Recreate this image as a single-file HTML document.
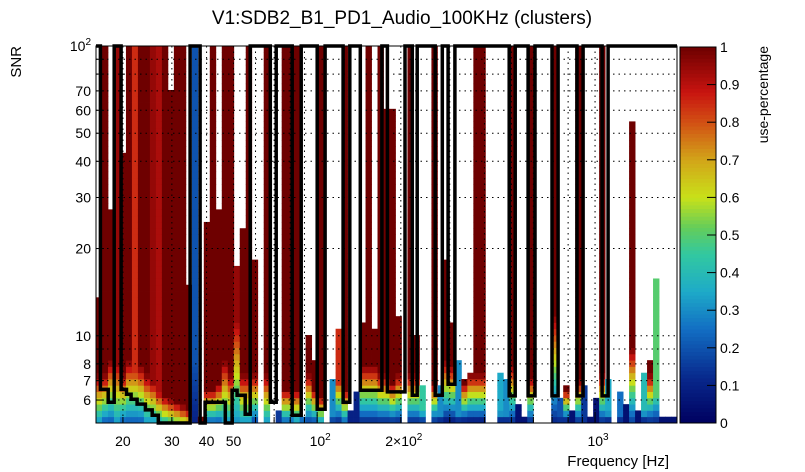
<!DOCTYPE html>
<html><head><meta charset="utf-8"><style>
body{margin:0;background:#fff;}
svg{display:block;font-family:"Liberation Sans",Arial,sans-serif;}
</style></head><body>
<svg id="chart" width="805" height="472" viewBox="0 0 805 472" xmlns="http://www.w3.org/2000/svg">
<rect width="805" height="472" fill="#fff"/>
<text x="402" y="24" font-size="19" text-anchor="middle">V1:SDB2_B1_PD1_Audio_100KHz (clusters)</text>
<g id="cells"></g>
<g id="grid"></g>
<path id="contour" fill="none" stroke="#000" stroke-width="3.5" stroke-linejoin="miter"/>
<rect x="96" y="46" width="581" height="377" fill="none" stroke="#000" stroke-width="1"/>
<g id="axes"></g>
<g id="cbar"></g>
<text x="0" y="0" font-size="15" text-anchor="end" transform="translate(21,46) rotate(-90)">SNR</text>
<text x="669" y="466" font-size="15" text-anchor="end">Frequency [Hz]</text>
<text x="0" y="0" font-size="14" text-anchor="end" transform="translate(768,46) rotate(-90)">use-percentage</text>
</svg>
<script>
// ---- data ----
const nCols = 97, fMin = 16.0, fMax = 1972;
const nRows = 60, sMin = 5, sMax = 100;
const tops = [13.8,100,27.5,100,43,100,100,100,100,100,100,100,70,100,100,15,100,5.3,25,100,27,100,100,17,23,100,18.5,0,100,0,
5.5,100,100,100,5.2,10.2,8.4,100,0,7.2,10.6,100,5.6,6.5,11.2,100,10.6,100,60,60,11.8,0,100,10.2,6.8,0,100,6.6,18.5,11.2,
8.4,7,7.6,100,100,0,0,7.5,7,100,5.8,5.3,100,0,0,0,100,6,6.8,5.4,100,6.6,5.3,6,100,7.2,0,6.5,5.8,55,
5.5,7.3,8.4,16,5.3,5.3,5.3];
const mids = [6.5,6.5,7,7,6.5,7,7,6.8,6.5,6.3,6,5.8,5.7,5.6,5.5,5.4,100,5.1,6,6,6.2,7,6.5,9,6.5,6.5,6.5,6,6.5,6,
6,6,6,6,6,6.5,6,5.8,6,6,6.5,6,6,6,6.8,6.8,6.8,6.5,6.5,6.2,6.5,6,6.5,6.5,6,6,6.2,6,7,6.8,
6,6.2,6.5,6.5,6.5,6,6,6,6,6.8,6,6,6.4,6,6,6,9,6,6,6,6.3,6,6,6,6.5,6,6,6,6,7.5,
6,6,6.5,7,6,6,6];
const bases = [.3,.2,.2,.3,.2,.2,.2,.2,.3,.3,.35,.4,.45,.5,.55,.6,.1,.9,.2,.2,.2,.3,.3,.3,.3,.3,.15,0,.3,0,
.1,.2,.2,.3,.25,.15,.15,.3,0,.1,.1,.2,.05,.05,.1,.1,.1,.1,.1,.1,.1,0,.1,.1,.1,0,.1,.05,.05,.05,
.05,.05,.05,.05,.05,0,0,.05,.05,.1,.05,.05,.1,0,0,0,.1,.05,.05,.05,.1,.05,.05,.05,.1,.05,0,.05,.05,.15,
.05,.05,.1,.1,.05,.05,.05];
const caps = [1,1,1,.95,1,1,.85,1,1,.95,.92,1,1,1,1,1,.2,1,1,1,1,1,1,.95,1,1,1,1,1,1,
.15,1,1,1,.25,1,1,1,1,.3,.85,1,.1,.1,1,1,1,1,1,1,1,1,1,1,.45,1,1,.3,1,1,
.3,1,1,1,1,1,1,.35,.3,1,.05,.05,1,1,1,1,1,.2,1,.05,1,.15,.05,.05,1,.35,1,.25,.05,1,
.05,.4,1,.5,.05,.05,.05];
const toothF = [[16.6,17.7,18.6],[19.7,20.6,21.4,22.5,24.1,25.5,26.8,34.9],[37.9,39.5,46.7,49.4,51.5,55.1,57.4],
[67.8,71.2],[81.3,87.6],[100,106.8],[124,131],[143,171],[179,207],[220,229],[266,282],[296,313],
[491,516],[574,608],[700,736],[861,906],[1060,1114]];
const toothS = [[6.53,5.9],[6.53,6.28,6.04,5.81,5.55,5.32,5.0],[5.0,5.9,5.0,6.49,6.23,5.36],
[5.9],[5.32],[5.58],[5.9],[6.49],[6.4],[6.23],[6.23],[6.8],[6.2],[6.2],[6.2],[6.2],[6.2]];
const yTicks = [6,7,8,9,10,20,30,40,50,60,70,80,90];
const yLabels = [[6,"6"],[7,"7"],[8,"8"],[10,"10"],[20,"20"],[30,"30"],[40,"40"],[50,"50"],[60,"60"],[70,"70"]];
const xTicks = [20,30,40,50,60,70,80,90,100,200,300,400,500,600,700,800,900,1000];
const xLabels = [[20,"20"],[30,"30"],[40,"40"],[50,"50"]];
const cbTicks = [0,0.1,0.2,0.3,0.4,0.5,0.6,0.7,0.8,0.9,1];

// ---- axes ----
const X0=96,X1=677,Y0=423,Y1=46;
const xs = f => X0 + (Math.log10(f)-Math.log10(fMin))/(Math.log10(fMax)-Math.log10(fMin))*(X1-X0);
const ys = s => Y0 - (Math.log10(s)-Math.log10(sMin))/(Math.log10(sMax)-Math.log10(sMin))*(Y0-Y1);
const NS="http://www.w3.org/2000/svg";
function mk(tag, attrs, parent){const e=document.createElementNS(NS,tag);for(const k in attrs)e.setAttribute(k,attrs[k]);parent.appendChild(e);return e;}

const stops=[[0,[0,0,95]],[0.12,[8,40,140]],[0.25,[18,110,195]],[0.35,[30,170,200]],[0.45,[50,200,160]],[0.52,[100,205,90]],[0.6,[200,225,25]],[0.7,[210,165,25]],[0.8,[210,80,20]],[0.88,[200,20,16]],[1,[110,0,0]]];
function cmap(v){v=Math.max(0,Math.min(1,v));for(let i=1;i<stops.length;i++){if(v<=stops[i][0]){const a=stops[i-1],b=stops[i];const t=(v-a[0])/(b[0]-a[0]);const c=a[1].map((x,j)=>Math.round(x+(b[1][j]-x)*t));return `rgb(${c})`;}}return 'rgb(110,0,0)';}

// ---- cells ----
const cells=document.getElementById('cells');
const lfMin=Math.log10(fMin), lfMax=Math.log10(fMax), lsMin=Math.log10(sMin), lsMax=Math.log10(sMax);
for(let i=0;i<nCols;i++){
  if(!tops[i]) continue;
  const f0=Math.pow(10,lfMin+(lfMax-lfMin)*i/nCols), f1=Math.pow(10,lfMin+(lfMax-lfMin)*(i+1)/nCols);
  const xa=xs(f0), xb=xs(f1);
  for(let r=0;r<nRows;r++){
    const s0=Math.pow(10,lsMin+(lsMax-lsMin)*r/nRows), s1=Math.pow(10,lsMin+(lsMax-lsMin)*(r+1)/nRows);
    const sc=Math.sqrt(s0*s1);
    if(sc>tops[i]) break;
    const t=Math.log(sc/5)/Math.log(mids[i]/5);
    let v=bases[i]+(1-bases[i])*Math.min(1,t*0.67);
    v=Math.min(v,caps[i]);
    const c=mk('rect',{x:xa.toFixed(2),y:ys(s1).toFixed(2),width:(xb-xa+0.4).toFixed(2),height:(ys(s0)-ys(s1)+0.4).toFixed(2),fill:cmap(v)},cells);
    
    
  }
}

// ---- grid ----
const grid=document.getElementById('grid');
yTicks.forEach(s=>{const l=mk('line',{x1:X0,x2:X1,y1:ys(s),y2:ys(s),stroke:'#000','stroke-width':1,'stroke-dasharray':'1.5 4'},grid);

});
xTicks.forEach(f=>{const l=mk('line',{x1:xs(f),x2:xs(f),y1:Y1,y2:Y0,stroke:'#000','stroke-width':1,'stroke-dasharray':'1.5 4'},grid);

});

// ---- contour ----
let d=`M${X0} ${ys(100)}`;
toothF.forEach((F,k)=>{const S=toothS[k];
  d+=` L${xs(F[0]).toFixed(1)} ${ys(100)}`;
  for(let j=0;j<S.length;j++){d+=` L${xs(F[j]).toFixed(1)} ${ys(S[j]).toFixed(1)} L${xs(F[j+1]).toFixed(1)} ${ys(S[j]).toFixed(1)}`;}
  d+=` L${xs(F[F.length-1]).toFixed(1)} ${ys(100)}`;
});
d+=` L${X1} ${ys(100)}`;
document.getElementById('contour').setAttribute('d',d);

// ---- axes ----
const ax=document.getElementById('axes');
yTicks.concat([100]).forEach(s=>{const t=mk('line',{x1:X0,x2:X0+8,y1:ys(s),y2:ys(s),stroke:'#000'},ax);

});
yLabels.forEach(([s,l])=>{const t=mk('text',{x:X0-5,y:ys(s)+5,'font-size':14,'text-anchor':'end'},ax);t.textContent=l;

});
const y100=mk('text',{x:X0-5,y:ys(100)+5,'font-size':14,'text-anchor':'end'},ax);y100.innerHTML='10<tspan font-size="10" dy="-6">2</tspan>';


xTicks.forEach(f=>{const t=mk('line',{x1:xs(f),x2:xs(f),y1:Y0,y2:Y0-(f==100||f==1000?11:6),stroke:'#000'},ax);

});
xLabels.forEach(([f,l])=>{const t=mk('text',{x:xs(f),y:446,'font-size':14,'text-anchor':'middle'},ax);t.textContent=l;

});
[[100,'10','2'],[200,'2×10','2'],[1000,'10','3']].forEach(([f,b,e])=>{const t=mk('text',{x:xs(f)+3,y:446,'font-size':14,'text-anchor':'middle'},ax);t.innerHTML=b+'<tspan font-size="10" dy="-6">'+e+'</tspan>';

});

// ---- colorbar ----
const cb=document.getElementById('cbar');
const CX=680,CW=36,CT=47,CB=423;
for(let k=0;k<100;k++){const r=mk('rect',{x:CX,y:(CB-(k+1)*(CB-CT)/100).toFixed(2),width:CW,height:((CB-CT)/100+0.5).toFixed(2),fill:cmap((k+0.5)/100)},cb);

}
const cf=mk('rect',{x:CX,y:CT,width:CW,height:CB-CT,fill:'none',stroke:'#000'},cb);


cbTicks.forEach(v=>{const y=CB-v*(CB-CT);
const t=mk('line',{x1:CX+CW-9,x2:CX+CW,y1:y,y2:y,stroke:'#000'},cb);


const l=mk('text',{x:CX+CW+4,y:y+5,'font-size':14},cb);l.textContent=String(v);

});
</script>
</body></html>
